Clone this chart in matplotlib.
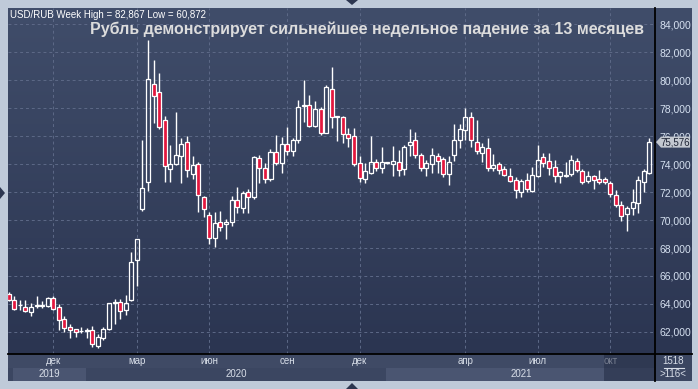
import numpy as np
import matplotlib
matplotlib.use('Agg')
import matplotlib.pyplot as plt
from matplotlib.patches import Rectangle, Polygon

# weekly USD/RUB candles, oldest first
opens = [64.71, 64.28, 63.90, 63.80, 63.40, 63.85, 63.87, 63.87, 64.40, 63.80,
         62.90, 62.33, 62.19, 62.05, 62.10, 62.14, 61.01, 61.59, 62.23, 64.10,
         64.14, 63.57, 64.28, 67.14, 70.79, 72.70, 79.71, 79.16, 77.16, 73.65,
         73.99, 74.61, 75.56, 73.27, 73.99, 71.65, 70.36, 68.69, 69.89, 69.72,
         69.84, 71.41, 70.84, 71.98, 71.67, 74.46, 73.70, 72.91, 74.84, 74.10,
         75.42, 74.94, 75.73, 78.15, 78.21, 76.75, 77.92, 76.25, 79.36, 77.40,
         77.38, 76.19, 76.00, 74.07, 72.93, 73.36, 74.14, 73.71, 74.12, 74.00,
         74.12, 73.64, 75.36, 75.71, 74.64, 73.74, 74.00, 74.60, 74.40, 73.29,
         74.64, 75.71, 76.45, 77.40, 75.55, 74.83, 75.16, 73.71, 74.00, 73.64,
         73.14, 72.86, 71.98, 72.86, 72.10, 73.12, 74.52, 74.24, 73.81, 73.12,
         73.17, 73.29, 74.24, 73.52, 72.79, 73.17, 72.93, 72.93, 72.64, 71.79,
         71.07, 70.43, 70.86, 71.21, 72.69, 73.36]
highs = [64.85, 64.57, 64.28, 64.28, 64.05, 64.57, 64.20, 64.52, 64.57, 63.97,
         63.14, 62.57, 62.19, 62.37, 62.26, 62.44, 61.85, 62.37, 64.10, 64.36,
         64.36, 64.64, 67.69, 68.65, 75.73, 82.867, 81.45, 80.54, 77.44, 75.37,
         77.71, 75.85, 76.01, 74.58, 74.13, 71.70, 70.60, 70.55, 70.65, 70.08,
         71.72, 72.36, 72.08, 72.22, 74.58, 74.65, 74.06, 75.08, 76.08, 75.92,
         76.63, 75.85, 78.59, 80.02, 78.95, 78.52, 78.11, 79.68, 80.95, 77.45,
         77.45, 76.62, 76.62, 74.60, 74.05, 76.02, 74.36, 75.26, 74.14, 75.31,
         75.02, 75.36, 76.50, 76.31, 74.79, 74.29, 75.12, 74.83, 74.48, 74.60,
         76.90, 76.90, 78.00, 77.74, 77.14, 75.50, 75.90, 74.76, 74.12, 73.88,
         73.71, 73.10, 72.93, 73.40, 73.81, 75.38, 74.79, 74.79, 74.29, 73.50,
         74.17, 74.67, 74.43, 73.64, 73.52, 73.24, 73.60, 73.10, 72.81, 72.14,
         71.38, 71.02, 72.21, 73.17, 73.64, 75.86]
lows = [64.20, 63.57, 63.57, 63.42, 63.16, 63.69, 63.69, 63.76, 63.57, 62.14,
        62.01, 61.59, 61.66, 61.90, 61.59, 60.94, 60.872, 61.43, 62.15, 62.57,
        62.93, 63.21, 64.20, 65.31, 70.67, 72.10, 76.96, 76.49, 72.75, 72.75,
        73.94, 72.67, 73.11, 72.91, 70.60, 70.24, 68.26, 68.05, 69.21, 68.65,
        69.60, 70.53, 70.53, 70.53, 71.48, 72.67, 72.67, 72.82, 73.94, 73.39,
        74.65, 74.58, 75.49, 77.04, 76.68, 76.68, 76.08, 76.20, 76.62, 75.67,
        75.50, 75.26, 73.88, 72.74, 72.62, 73.30, 73.50, 73.36, 74.00, 73.17,
        73.12, 73.21, 74.60, 74.45, 73.50, 73.17, 73.36, 73.40, 73.10, 72.50,
        74.24, 75.19, 75.74, 75.24, 74.71, 74.12, 73.48, 73.48, 73.33, 73.17,
        72.69, 71.55, 71.62, 71.98, 72.02, 73.05, 73.81, 73.24, 72.69, 72.62,
        73.10, 73.12, 73.45, 72.57, 72.62, 72.21, 72.57, 72.57, 71.62, 70.90,
        69.90, 69.19, 70.38, 70.48, 71.98, 73.29]
closes = [64.28, 63.66, 63.95, 63.52, 63.80, 63.90, 63.90, 64.40, 63.64, 62.85,
          62.30, 62.14, 62.01, 62.10, 62.12, 61.11, 61.62, 62.19, 64.05, 64.15,
          63.52, 64.05, 66.98, 68.65, 72.27, 80.07, 78.85, 76.63, 73.85, 73.99,
          74.63, 75.42, 73.56, 73.91, 71.77, 70.77, 68.69, 69.77, 69.50, 69.84,
          71.41, 70.91, 71.91, 71.67, 74.51, 73.70, 72.91, 74.84, 74.10, 75.42,
          74.94, 75.73, 78.11, 78.21, 76.75, 77.92, 76.25, 79.49, 77.40, 77.38,
          76.19, 75.90, 74.00, 72.98, 73.52, 74.14, 73.71, 74.14, 74.05, 74.21,
          73.57, 75.24, 75.62, 74.64, 73.74, 74.07, 74.69, 74.21, 73.29, 74.17,
          75.71, 76.50, 77.36, 75.71, 74.93, 75.24, 73.71, 73.93, 73.57, 73.21,
          72.79, 72.14, 72.81, 72.19, 73.24, 74.29, 74.05, 73.69, 73.12, 73.45,
          73.21, 74.29, 73.57, 72.69, 73.17, 72.86, 72.69, 72.69, 71.86, 71.07,
          70.26, 70.86, 71.29, 72.86, 73.50, 75.576]

month_pos = [8, 23, 36, 50, 63, 82, 95, 108]
month_labels = ['дек', 'мар', 'июн', 'сен', 'дек', 'апр', 'июл', 'окт']
year_labels = ['2019', '2020', '2021']
year_spans = [(0.8, 13.8), (13.8, 67.8), (67.8, 116.1)]
price_ticks = list(range(62, 86, 2))

title = 'Рубль демонстрирует сильнейшее недельное падение за 13 месяцев'
info = 'USD/RUB Week High = 82,867 Low = 60,872'

W, H = 698, 389
plt.rcParams['font.family'] = ['Liberation Sans', 'DejaVu Sans']
fig = plt.figure(figsize=(W / 100, H / 100), dpi=100)
fig.patch.set_facecolor('#bfcad9')


def box(x0, y0, x1, y1):
    # pixel box -> figure rect
    return [x0 / W, 1 - y1 / H, (x1 - x0) / W, (y1 - y0) / H]


def fp(x, y):
    return (x / W, 1 - y / H)


# dark panel + gradient
bg = fig.add_axes(box(8, 8, 692, 354))
grad = np.linspace(0, 1, 256).reshape(-1, 1)
top_c = np.array([0x40, 0x4d, 0x6a]) / 255
bot_c = np.array([0x2b, 0x35, 0x51]) / 255
img = top_c + (bot_c - top_c) * grad[:, :, None]
bg.imshow(img, aspect='auto', extent=[0, 1, 0, 1])
bg.set_axis_off()

n = len(closes)
x = np.arange(n)
ax = fig.add_axes(box(8, 8, 655, 354))
ax.set_facecolor('none')
ax.set_xlim(-0.126, 116.03)
ax.set_ylim(60.42, 85.17)
for s in ax.spines.values():
    s.set_visible(False)
ax.set_yticks(price_ticks)
ax.set_yticklabels([f'{v},000' for v in price_ticks])
ax.yaxis.tick_right()
ax.tick_params(axis='y', length=0, pad=3, labelsize=7.5, labelcolor='#d5e0f0')
ax.set_xticks(month_pos)
ax.tick_params(axis='x', length=0, labelbottom=False)
ax.grid(True, color='#5d6987', linestyle=(0, (3, 3)), linewidth=0.7)
ax.set_axisbelow(True)

o = np.array(opens)
c = np.array(closes)
lo = np.minimum(o, c)
hi = np.maximum(o, c)
hgt = np.maximum(hi - lo, 0.04)
ax.vlines(x, hi, highs, color='white', linewidth=1.0, zorder=3)
ax.vlines(x, lows, lo, color='white', linewidth=1.0, zorder=3)
face = ['#e3173e' if cc < oo else 'none' for oo, cc in zip(opens, closes)]
ax.bar(x, hgt, bottom=lo, width=0.72, color=face, edgecolor='white',
       linewidth=0.9, zorder=4)

# separators
fig.add_artist(plt.Line2D([655 / W, 655 / W], [1 - 8 / H, 1 - 381 / H],
                          color='black', lw=1.3))
fig.add_artist(plt.Line2D([8 / W, 692 / W], [1 - 354 / H, 1 - 354 / H],
                          color='black', lw=1.3))

# texts
fig.text(*fp(10, 15), info, fontsize=7, color='white', va='center', ha='left')
fig.text(*fp(367, 29), title, fontsize=11.5, fontweight='bold',
         color='#dcdcdc', va='center', ha='center')

# last price flag
py = 52.3 + (82 - closes[-1]) * 13.98
fig.add_artist(Polygon([fp(656, py), fp(661, py - 5.5), fp(690, py - 5.5),
                        fp(690, py + 5.5), fp(661, py + 5.5)],
                       closed=True, transform=fig.transFigure,
                       facecolor='#c3c8d0', edgecolor='none'))
fig.text(*fp(675.5, py), f'{closes[-1]:.3f}'.replace('.', ','), fontsize=7,
         color='#1c2233', va='center', ha='center')

# time strip
tx = fig.add_axes(box(8, 354, 655, 381))
tx.set_xlim(ax.get_xlim())
tx.set_ylim(27, 0)
tx.set_axis_off()
tx.add_patch(Rectangle((-1, 0), 120, 27, facecolor='#3b4661', zorder=0))
tx.add_patch(Rectangle((-1, 0), 120, 13.5, facecolor='#3f4a65', zorder=0))
for k, (a, b) in enumerate(year_spans):
    col = '#4a5571' if k != 1 else '#3b4661'
    tx.add_patch(Rectangle((a, 13.5), b - a, 13, facecolor=col, zorder=1))
    tx.text((a + b) / 2, 20, year_labels[k], fontsize=7, color='#d8dee8',
            ha='center', va='center', zorder=3)
for p, lab in zip(month_pos, month_labels):
    tx.text(p, 7, lab, fontsize=7, color='#d8dee8', ha='center', va='center',
            zorder=3)
tx.add_patch(Rectangle((106.9, 0), 9.2, 27, facecolor='#232c44', alpha=0.55,
                       zorder=4))

# counter box bottom right
fig.add_artist(Rectangle(fp(655, 381), 37 / W, 27 / H, transform=fig.transFigure,
                         facecolor='#3b4661', edgecolor='none', zorder=0))
fig.text(*fp(673, 361), '1518', fontsize=7, color='#d8dee8', ha='center',
         va='center')
fig.add_artist(plt.Line2D([664 / W, 684 / W], [1 - 367.5 / H, 1 - 367.5 / H],
                          color='#d8dee8', lw=0.8))
fig.text(*fp(673, 374), '>116<', fontsize=7, color='#d8dee8', ha='center',
         va='center')

# scroll triangles
tri = '#2c3650'
fig.add_artist(Polygon([fp(346, 0), fp(358, 0), fp(352, 5)], closed=True,
                       transform=fig.transFigure, facecolor=tri))
fig.add_artist(Polygon([fp(346, 389), fp(358, 389), fp(352, 383)], closed=True,
                       transform=fig.transFigure, facecolor=tri))
fig.add_artist(Polygon([fp(0, 187), fp(0, 199), fp(5, 193)], closed=True,
                       transform=fig.transFigure, facecolor=tri))

fig.savefig('out.png', dpi=100, facecolor=fig.get_facecolor())
